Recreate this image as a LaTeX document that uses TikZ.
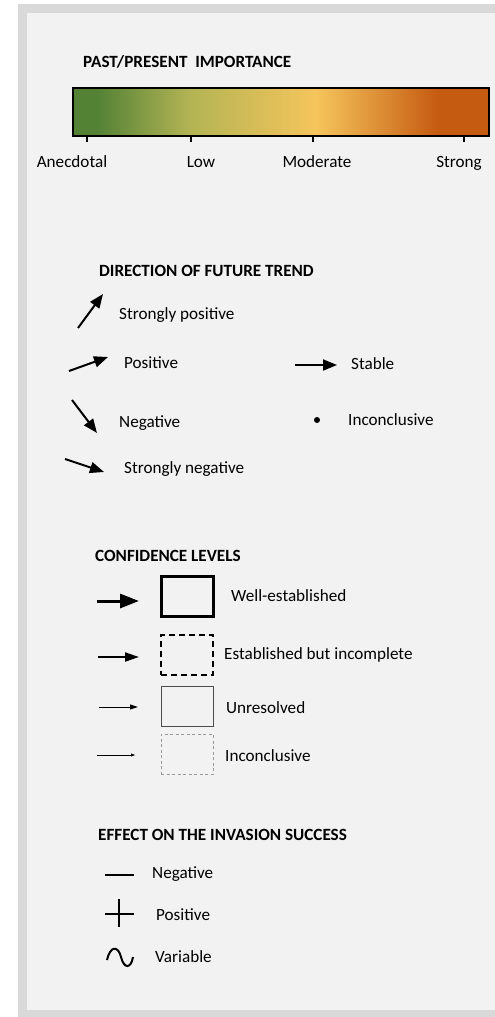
\documentclass[tikz,border=0pt]{standalone}
\usepackage{fontspec}
\setmainfont{Carlito}
\usetikzlibrary{arrows.meta}
\definecolor{panelgray}{HTML}{F2F2F2}
\definecolor{framegray}{HTML}{D9D9D9}
\definecolor{impgreen}{HTML}{548235}
\definecolor{impolive}{HTML}{B3B454}
\definecolor{impyellow}{HTML}{F5C55B}
\definecolor{imporange}{HTML}{C55A11}
\pgfdeclarehorizontalshading{impbar}{100bp}{color(0bp)=(impgreen); color(28bp)=(impgreen); color(39bp)=(impolive); color(54.2bp)=(impyellow); color(69bp)=(imporange); color(100bp)=(imporange)}
\tikzset{
	lbl/.style={anchor=base west, inner sep=0pt, font=\fontsize{17.2}{19}\selectfont},
	hdr/.style={lbl, font=\fontsize{17.2}{19}\selectfont\bfseries},
	trend/.style={line width=2bp, -{Triangle[length=14bp,width=11bp]}},
	confbox/.style={minimum width=52bp, minimum height=40bp, inner sep=0pt},
}

\begin{document}
\begin{tikzpicture}[x=1bp,y=-1bp]
		\useasboundingbox (0,0) rectangle (495,1017);
		\fill[white] (0,0) rectangle (495,1017);
		\fill[framegray] (18,4) rectangle (495,1017);
		\fill[panelgray] (27,13) rectangle (495,1010);
		
		\node[hdr] (imptitle) at (83,67) {PAST/PRESENT\ \ IMPORTANCE};
		\shade[shading=impbar] (73,88) rectangle (489,136);
		\draw[line width=2.5bp] (73,88) rectangle (489,136);
		\foreach \x/\lx/\name/\txt in {87/72/anec/Anecdotal, 191/201/low/Low, 313/317/mod/Moderate, 464/459/strong/Strong}{
			\draw[line width=2bp] (\x,136) -- (\x,142);
			\node[lbl, anchor=base] (\name) at (\lx,167) {\txt};
		}
		
		\node[hdr] (trendtitle) at (99,276) {DIRECTION OF FUTURE TREND};
		\draw[trend] (78,328) -- (103,294);
		\node[lbl] (strpos) at (119,319) {Strongly positive};
		\draw[trend] (69,371) -- (108,357);
		\node[lbl] (pos) at (124,368) {Positive};
		\draw[trend] (72,400) -- (97,433);
		\node[lbl] (neg) at (119,427) {Negative};
		\draw[trend] (65,459) -- (104,472);
		\node[lbl] (strneg) at (124,473) {Strongly negative};
		\draw[trend] (295,365) -- (337,365);
		\node[lbl] (stable) at (351,369) {Stable};
		\fill (317,420) circle (3bp);
		\node[lbl] (inconc) at (348,425) {Inconclusive};
		
		\node[hdr] (conftitle) at (95,561) {CONFIDENCE LEVELS};
		\draw[line width=3bp, -{Triangle[length=19bp,width=14bp]}] (97,601) -- (139,601);
		\node[confbox, draw, line width=3bp] (wellbox) at (187,596) {};
		\node[lbl] (well) at (231,601) {Well-established};
		\draw[line width=2bp, -{Triangle[length=14bp,width=9bp]}] (98,657) -- (139,657);
		\node[confbox, draw, line width=2bp, dash pattern=on 6bp off 4bp] (incbox) at (187,654.5) {};
		\node[lbl] (incompl) at (224,659) {Established but incomplete};
		\draw[line width=1bp, -{Triangle[length=8bp,width=5bp]}] (99,707) -- (138,707);
		\node[confbox, draw=black!70, line width=1bp] (unresbox) at (187,706.5) {};
		\node[lbl] (unres) at (226,713) {Unresolved};
		\draw[line width=0.6bp, -{Triangle[length=4bp,width=3bp]}] (97,755) -- (135,755);
		\node[confbox, draw=black!40, line width=0.8bp, dash pattern=on 3bp off 2.5bp] (inconcbox) at (187,754) {};
		\node[lbl] (inconcl) at (225,761) {Inconclusive};
		
		\node[hdr] (efftitle) at (98,840) {EFFECT ON THE INVASION SUCCESS};
		\draw[line width=2.2bp] (105,875) -- (134,875);
		\node[lbl] (effneg) at (152,878) {Negative};
		\draw[line width=2bp] (105,914) -- (134,914) (119,899) -- (119,927);
		\node[lbl] (effpos) at (156,920) {Positive};
		\draw[line width=2bp] (107,960) .. controls (110,946) and (118,945) .. (121,957) .. controls (124,969) and (131,969) .. (133,957);
		\node[lbl] (effvar) at (155,962) {Variable};
	\end{tikzpicture}
\end{document}
